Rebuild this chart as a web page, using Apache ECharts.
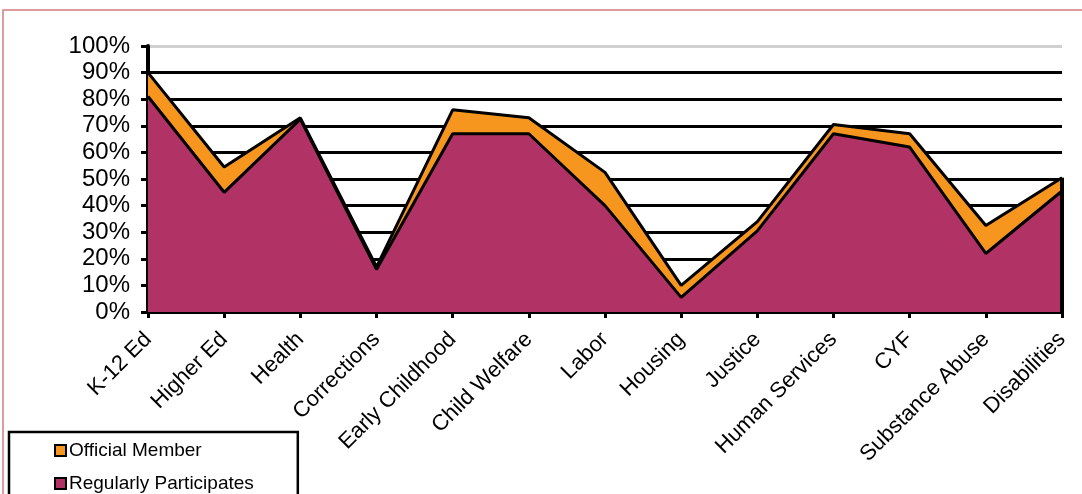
<!DOCTYPE html>
<html>
<head>
<meta charset="utf-8">
<script src="https://cdn.jsdelivr.net/npm/echarts@6/dist/echarts.min.js"></script>
<style>
	html, body { margin: 0; padding: 0; background: #fff; }
	#chart { width: 1082px; height: 494px; }
</style>
</head>
<body>
<div id="chart"></div>
<script>
	// categories along the x axis
	const categories = ['K-12 Ed', 'Higher Ed', 'Health', 'Corrections', 'Early Childhood', 'Child Welfare', 'Labor',
		'Housing', 'Justice', 'Human Services', 'CYF', 'Substance Abuse', 'Disabilities'];
	// percent values
	const officialMember = [90, 54.5, 73, 17, 76, 73, 52.5, 10, 34, 70.5, 67, 32.5, 50.5];
	const regularlyParticipates = [81, 45, 72.5, 16, 67, 67, 40, 5.5, 30.5, 67, 62, 22, 45.5];

	const font = "'Liberation Sans', Arial, sans-serif";
	const gridColors = ['#000', '#000', '#000', '#000', '#000', '#000', '#000', '#000', '#000', '#000', '#d0d0d0'];
	const lastCat = categories[categories.length - 1];

	let chart = echarts.init(document.getElementById('chart'));
	let option = {
		animation: false,
		textStyle: { fontFamily: font },
		graphic: [{
			type: 'rect',
			shape: { x: 3, y: 10, width: 1100, height: 500 },
			style: { fill: 'none', stroke: '#d47c83', lineWidth: 1.5 },
			silent: true
		}],
		grid: {
			left: 148,
			right: 20,
			top: 46,
			bottom: 182
		},
		legend: {
			orient: 'vertical',
			left: 9,
			top: 432,
			height: 120,
			padding: [9, 44, 30, 45],
			itemWidth: 11,
			itemHeight: 11,
			itemGap: 14,
			borderColor: '#000',
			borderWidth: 2.5,
			textStyle: { fontSize: 19, color: '#000', fontFamily: font, padding: [0, 0, 0, -2] },
			data: [{
				name: 'Official Member',
				icon: 'rect',
				itemStyle: { color: '#f7961e', borderColor: '#000', borderWidth: 2 }
			}, {
				name: 'Regularly Participates',
				icon: 'rect',
				itemStyle: { color: '#b13366', borderColor: '#000', borderWidth: 2 }
			}]
		},
		xAxis: {
			type: 'category',
			boundaryGap: false,
			data: categories,
			axisLine: { lineStyle: { color: '#000', width: 4 } },
			axisTick: { show: true, length: 6, lineStyle: { color: '#000', width: 3 } },
			axisLabel: {
				interval: 0,
				rotate: 45,
				margin: 24,
				fontSize: 22,
				color: '#000',
				fontFamily: font
			}
		},
		yAxis: {
			type: 'value',
			min: 0,
			max: 100,
			interval: 10,
			axisLine: { show: true, lineStyle: { color: '#000', width: 4 } },
			axisTick: { show: true, length: 7, lineStyle: { color: '#000', width: 3 } },
			axisLabel: {
				formatter: '{value}%',
				fontSize: 24,
				color: '#000',
				margin: 18,
				fontFamily: font
			},
			splitLine: { show: true, lineStyle: { color: gridColors, width: 3 } }
		},
		series: [{
			name: 'Official Member',
			type: 'line',
			data: officialMember,
			symbol: 'none',
			itemStyle: { color: '#f7961e' },
			lineStyle: { color: '#000', width: 3 },
			areaStyle: { color: '#f7961e', opacity: 1 },
			z: 2,
			markLine: {
				silent: true,
				symbol: 'none',
				label: { show: false },
				lineStyle: { color: '#000', width: 4, type: 'solid' },
				data: [[
					{ coord: [lastCat, 0] },
					{ coord: [lastCat, officialMember[officialMember.length - 1]] }
				]]
			}
		}, {
			name: 'Regularly Participates',
			type: 'line',
			data: regularlyParticipates,
			symbol: 'none',
			itemStyle: { color: '#b13366' },
			lineStyle: { color: '#000', width: 3 },
			areaStyle: { color: '#b13366', opacity: 1 },
			z: 3
		}]
	};
	chart.setOption(option);
</script>
</body>
</html>
